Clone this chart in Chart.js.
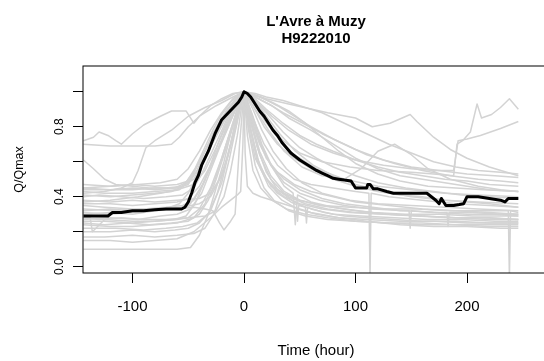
<!DOCTYPE html>
<html>
<head>
<meta charset="utf-8">
<script src="https://cdn.jsdelivr.net/npm/chart.js@4/dist/chart.umd.min.js"></script>
<style>
  html, body { margin: 0; padding: 0; background: #fff; overflow: hidden; }
  #wrap { width: 552px; height: 361px; }
</style>
</head>
<body>
<div id="wrap"><canvas id="myChart"></canvas></div>
<script>
// Axis ticks
let xTicks = [-100, 0, 100, 200];
let yTicks = [0, 0.2, 0.4, 0.6, 0.8, 1.0];
let yLabelled = [0, 0.4, 0.8];

// Mean event (black line): hours around the peak, Q/Qmax
let meanHours = [-144,-130,-122,-118,-110,-100,-90,-80,-70,-62,
  -56,-53,-50,-47,-44,-41,-38,-35,-32,-29,
  -26,-23,-20,-17,-14,-11,-8,-5,-2,0,
  3,6,10,14,18,22,26,30,34,38,
  42,46,50,55,60,65,70,75,80,85,
  90,96,98,100,105,110,111,113,116,120,
  128,134,140,150,160,164,168,172,175,177,
  181,184,188,193,197,200,205,210,220,230,
  234,237,240,246];
let meanQ = [0.29,0.29,0.29,0.31,0.31,0.32,0.32,0.325,0.33,0.33,
  0.33,0.34,0.37,0.42,0.48,0.52,0.58,0.62,0.66,0.71,
  0.76,0.80,0.84,0.86,0.88,0.90,0.92,0.94,0.97,1.0,
  0.99,0.97,0.93,0.89,0.86,0.82,0.78,0.75,0.71,0.68,
  0.65,0.63,0.61,0.59,0.57,0.55,0.535,0.52,0.505,0.50,
  0.495,0.49,0.47,0.45,0.45,0.45,0.47,0.47,0.445,0.445,
  0.43,0.42,0.42,0.42,0.42,0.42,0.40,0.38,0.36,0.39,
  0.35,0.35,0.35,0.355,0.36,0.40,0.40,0.40,0.39,0.38,
  0.37,0.39,0.39,0.39];

// Individual flood events (grey lines): hours and Q/Qmax
let greyHours = [
  [-144,-135,-130,-122,-115,-110,-100,-90,-75,-65,-52,-45,-40,-30,-20,-10,0,10,25,40,60,80,100,120,140,160,180,200,220,246],
  [-144,-120,-100,-80,-65,-58,-50,-40,-25,-10,0,10,20,35,50,70,90,110,130,150,170,190,210,230,246],
  [-144,-135,-125,-115,-100,-85,-70,-55,-45,-35,-25,-15,-5,0,8,18,30,45,60,80,100,120,140,160,180,200,220,246],
  [-144,-125,-110,-100,-95,-88,-80,-65,-50,-35,-20,-8,0,20,40,75,100,115,131,149,155,170,185,200,220,246],
  [-144,-120,-100,-80,-60,-50,-42,-34,-26,-18,-10,-4,0,10,22,35,50,70,95,120,150,170,188,191,196,203,209,213,222,230,238,246],
  [-144,-120,-100,-80,-62,-52,-44,-36,-28,-20,-12,-5,0,12,25,40,60,80,100,125,150,170,188,192,200,212,230,246],
  [-144,-120,-100,-80,-60,-50,-42,-35,-28,-20,-12,-5,0,5,12,20,30,45,60,80,100,130,160,190,220,246],
  [-144,-125,-100,-80,-60,-45,-35,-25,-15,-8,0,10,20,35,50,65,80,100,120,140,160,180,200,220,246],
  [-144,-130,-110,-90,-70,-55,-45,-38,-30,-22,-15,-8,0,6,14,24,36,50,70,90,115,140,148,149,150,170,200,225,246],
  [-144,-120,-100,-80,-60,-40,-30,-22,-15,-8,-3,0,4,10,18,28,40,55,75,100,130,160,190,220,246],
  [-144,-120,-95,-75,-58,-48,-40,-32,-24,-16,-8,0,10,22,35,50,70,90,110,135,160,185,210,230,246],
  [-144,-125,-100,-75,-55,-40,-30,-20,-12,-6,0,5,12,20,30,42,47,48,49,56,72,90,110,135,160,190,220,246],
  [-144,-115,-90,-70,-55,-45,-36,-28,-20,-12,-5,0,8,16,26,38,52,70,95,120,150,180,210,246],
  [-144,-120,-100,-85,-70,-58,-50,-42,-32,-22,-12,-4,0,10,20,32,46,62,80,100,125,150,180,210,246],
  [-144,-130,-110,-90,-70,-50,-35,-25,-18,-12,-6,-2,0,3,8,15,25,38,55,75,100,130,160,190,220,246],
  [-144,-120,-95,-75,-60,-48,-38,-30,-22,-14,-7,0,6,14,24,36,50,68,90,115,145,175,182,183,184,205,230,246],
  [-144,-125,-105,-85,-65,-50,-40,-32,-25,-18,-10,-4,0,5,12,20,30,45,55,56,57,60,80,105,135,165,195,225,246],
  [-144,-120,-100,-80,-60,-45,-35,-26,-18,-10,-4,0,8,18,30,45,60,80,100,112,113,114,130,160,190,220,246],
  [-144,-115,-90,-70,-55,-42,-32,-24,-16,-9,-3,0,6,14,24,36,50,70,95,125,155,185,215,237,238,239,246],
  [-144,-120,-100,-80,-62,-50,-40,-30,-20,-12,-5,0,5,12,22,34,48,65,85,110,140,170,200,230,246],
  [-144,-125,-100,-80,-60,-45,-35,-27,-20,-13,-7,-2,0,4,10,18,28,40,55,75,100,130,160,190,220,246],
  [-144,-120,-100,-80,-60,-45,-30,-20,-12,-6,-3,-1,0,1,3,8,15,25,40,60,85,110,140,170,200,230,246],
  [-144,-120,-100,-80,-60,-48,-40,-32,-25,-18,-12,-6,0,6,14,24,36,50,68,90,115,145,175,205,230,246],
  [-144,-120,-95,-75,-60,-50,-40,-30,-20,-10,0,15,30,45,60,80,100,125,150,175,200,225,246],
  [-144,-120,-100,-80,-60,-48,-38,-28,-18,-8,0,10,22,36,52,70,90,105,120,135,150,165,185,210,230,246],
  [-144,-125,-100,-80,-62,-52,-44,-36,-28,-20,-12,-5,0,8,18,30,45,65,90,120,150,180,210,246],
  [-144,-120,-100,-80,-60,-45,-35,-28,-22,-18,-12,-8,-4,0,6,14,24,36,50,70,95,125,155,185,215,246],
  [-144,-138,-136,-125,-100,-80,-60,-50,-40,-30,-20,-10,-4,0,8,16,26,36,44,46,48,60,80,100,130,160,190,220,246],
  [-144,-120,-100,-80,-65,-55,-45,-35,-25,-15,-6,0,10,25,40,55,70,85,100,120,140,165,190,215,246],
  [-144,-120,-100,-80,-60,-50,-40,-30,-20,-10,-3,0,10,20,35,50,65,80,100,120,145,170,195,220,246]
];
let greyQ = [
  [0.72,0.74,0.77,0.75,0.72,0.70,0.76,0.81,0.86,0.89,0.89,0.82,0.86,0.92,0.96,0.99,1.0,0.97,0.92,0.85,0.78,0.70,0.62,0.56,0.52,0.50,0.48,0.46,0.44,0.43],
  [0.70,0.69,0.69,0.69,0.70,0.74,0.80,0.86,0.92,0.97,1.0,0.99,0.97,0.95,0.92,0.88,0.82,0.76,0.70,0.65,0.60,0.57,0.55,0.54,0.53],
  [0.61,0.56,0.50,0.47,0.46,0.45,0.45,0.46,0.50,0.62,0.75,0.88,0.97,1.0,0.92,0.80,0.70,0.62,0.56,0.50,0.46,0.43,0.41,0.40,0.38,0.37,0.36,0.34],
  [0.42,0.43,0.45,0.48,0.55,0.68,0.72,0.78,0.86,0.91,0.95,0.99,1.0,0.96,0.93,0.88,0.85,0.80,0.82,0.87,0.83,0.74,0.67,0.62,0.57,0.52],
  [0.47,0.46,0.47,0.46,0.47,0.49,0.55,0.64,0.74,0.84,0.93,0.98,1.0,0.93,0.82,0.72,0.65,0.60,0.57,0.55,0.54,0.53,0.52,0.70,0.72,0.77,0.93,0.85,0.87,0.91,0.96,0.90],
  [0.44,0.44,0.45,0.44,0.45,0.48,0.56,0.67,0.78,0.87,0.94,0.98,1.0,0.94,0.86,0.78,0.70,0.65,0.61,0.58,0.56,0.55,0.55,0.72,0.73,0.75,0.79,0.83],
  [0.45,0.44,0.44,0.45,0.45,0.47,0.55,0.66,0.76,0.85,0.92,0.97,1.0,0.88,0.74,0.62,0.54,0.47,0.43,0.40,0.37,0.35,0.33,0.32,0.31,0.30],
  [0.43,0.42,0.42,0.43,0.44,0.47,0.55,0.68,0.82,0.92,1.0,0.96,0.90,0.82,0.75,0.70,0.66,0.61,0.57,0.54,0.52,0.50,0.49,0.47,0.46],
  [0.40,0.41,0.40,0.39,0.40,0.41,0.45,0.53,0.64,0.75,0.85,0.94,1.0,0.85,0.70,0.58,0.50,0.44,0.39,0.36,0.34,0.32,0.32,0.22,0.32,0.31,0.30,0.30,0.29],
  [0.38,0.37,0.38,0.37,0.38,0.39,0.42,0.50,0.62,0.78,0.92,1.0,0.80,0.62,0.52,0.45,0.40,0.36,0.33,0.31,0.30,0.29,0.28,0.28,0.27],
  [0.37,0.38,0.40,0.42,0.44,0.50,0.60,0.70,0.80,0.88,0.95,1.0,0.97,0.93,0.88,0.83,0.76,0.70,0.64,0.59,0.55,0.52,0.50,0.49,0.48],
  [0.35,0.34,0.33,0.33,0.34,0.36,0.40,0.52,0.70,0.88,1.0,0.82,0.62,0.50,0.42,0.37,0.355,0.26,0.35,0.34,0.31,0.29,0.28,0.27,0.26,0.26,0.25,0.25],
  [0.33,0.32,0.33,0.34,0.35,0.38,0.48,0.60,0.72,0.84,0.94,1.0,0.90,0.78,0.66,0.56,0.48,0.42,0.38,0.36,0.35,0.34,0.33,0.32],
  [0.31,0.30,0.31,0.32,0.33,0.36,0.42,0.52,0.66,0.78,0.90,0.97,1.0,0.95,0.86,0.76,0.66,0.58,0.52,0.47,0.43,0.40,0.38,0.37,0.36],
  [0.28,0.27,0.28,0.27,0.27,0.28,0.29,0.32,0.40,0.55,0.75,0.92,1.0,0.75,0.55,0.45,0.38,0.33,0.30,0.28,0.26,0.25,0.24,0.24,0.23,0.23],
  [0.27,0.28,0.27,0.29,0.30,0.33,0.42,0.55,0.68,0.80,0.92,1.0,0.88,0.72,0.58,0.48,0.42,0.38,0.35,0.33,0.32,0.31,0.31,0.23,0.31,0.31,0.30,0.30],
  [0.25,0.24,0.25,0.24,0.25,0.26,0.30,0.38,0.50,0.64,0.80,0.93,1.0,0.86,0.68,0.54,0.44,0.37,0.34,0.25,0.34,0.33,0.30,0.29,0.28,0.27,0.27,0.26,0.26],
  [0.24,0.23,0.23,0.24,0.25,0.28,0.36,0.50,0.66,0.82,0.94,1.0,0.85,0.70,0.58,0.50,0.47,0.45,0.43,0.42,-0.06,0.42,0.40,0.38,0.36,0.35,0.34],
  [0.22,0.22,0.21,0.22,0.23,0.25,0.30,0.42,0.60,0.78,0.93,1.0,0.84,0.66,0.52,0.43,0.38,0.35,0.34,0.33,0.33,0.32,0.32,0.32,-0.06,0.32,0.31],
  [0.20,0.20,0.21,0.20,0.21,0.22,0.25,0.32,0.48,0.70,0.90,1.0,0.80,0.60,0.46,0.38,0.33,0.30,0.28,0.27,0.26,0.26,0.25,0.25,0.25],
  [0.17,0.17,0.18,0.17,0.18,0.19,0.22,0.30,0.44,0.62,0.80,0.95,1.0,0.78,0.58,0.45,0.37,0.32,0.29,0.27,0.26,0.25,0.25,0.24,0.24,0.24],
  [0.15,0.15,0.14,0.15,0.16,0.20,0.28,0.34,0.38,0.41,0.43,0.70,1.0,0.65,0.46,0.42,0.40,0.38,0.35,0.31,0.28,0.26,0.24,0.23,0.23,0.22,0.22],
  [0.10,0.10,0.10,0.10,0.10,0.11,0.18,0.30,0.45,0.60,0.76,0.90,1.0,0.82,0.64,0.50,0.42,0.38,0.35,0.33,0.31,0.30,0.30,0.29,0.29,0.29],
  [0.45,0.46,0.47,0.48,0.50,0.56,0.66,0.78,0.88,0.96,1.0,0.97,0.92,0.86,0.80,0.73,0.67,0.61,0.57,0.55,0.53,0.52,0.51],
  [0.30,0.31,0.30,0.32,0.33,0.36,0.46,0.60,0.76,0.92,1.0,0.90,0.78,0.66,0.57,0.52,0.50,0.56,0.66,0.70,0.64,0.56,0.50,0.46,0.44,0.43],
  [0.26,0.26,0.25,0.26,0.27,0.29,0.36,0.48,0.62,0.76,0.88,0.96,1.0,0.94,0.84,0.74,0.64,0.56,0.50,0.46,0.44,0.42,0.41,0.40],
  [0.32,0.33,0.32,0.33,0.33,0.34,0.33,0.32,0.25,0.21,0.26,0.30,0.70,1.0,0.78,0.58,0.46,0.40,0.36,0.33,0.31,0.30,0.29,0.28,0.28,0.27],
  [0.28,0.28,0.20,0.27,0.26,0.26,0.27,0.28,0.33,0.45,0.62,0.82,0.94,1.0,0.86,0.70,0.56,0.46,0.42,0.24,0.41,0.37,0.34,0.32,0.30,0.29,0.28,0.27,0.27],
  [0.41,0.40,0.41,0.42,0.43,0.46,0.54,0.66,0.78,0.90,0.97,1.0,0.98,0.94,0.89,0.82,0.74,0.66,0.59,0.53,0.49,0.46,0.45,0.44,0.43],
  [0.36,0.36,0.35,0.36,0.37,0.39,0.46,0.58,0.72,0.86,0.96,1.0,0.95,0.88,0.77,0.68,0.62,0.57,0.52,0.48,0.45,0.43,0.41,0.40,0.39]
];

const fontFamily = "'Liberation Sans', Arial, Helvetica, sans-serif";

// black line first so it is drawn on top
let datasets = [{
    data: meanHours.map((h, i) => ({ x: h, y: meanQ[i] })),
    borderColor: '#000',
    borderWidth: 3,
    pointRadius: 0,
    borderJoinStyle: 'round'
}];
greyHours.forEach((hours, k) => {
    datasets.push({
        data: hours.map((h, i) => ({ x: h, y: greyQ[k][i] })),
        borderColor: 'rgb(211, 211, 211)',
        borderWidth: 1.5,
        pointRadius: 0,
        borderJoinStyle: 'round'
    });
});

// R style box around the plot region
const boxPlugin = {
    id: 'box',
    afterDatasetsDraw(chart) {
        const a = chart.chartArea;
        const c = chart.ctx;
        c.save();
        c.strokeStyle = '#000';
        c.lineWidth = 1;
        c.strokeRect(a.left, a.top, a.right - a.left, a.bottom - a.top);
        c.restore();
    }
};

let ctx = document.getElementById('myChart').getContext('2d');
let myChart = new Chart(ctx, {
    type: 'line',
    data: { datasets: datasets },
    plugins: [boxPlugin],
    options: {
        responsive: true,
        maintainAspectRatio: false,
        animation: false,
        events: [],
        layout: { padding: { left: 0, right: 3, top: 0, bottom: 0 } },
        plugins: {
            legend: { display: false },
            tooltip: { enabled: false },
            title: {
                display: true,
                fullSize: false,
                text: ["L'Avre à Muzy", 'H9222010'],
                color: '#000',
                font: { family: fontFamily, size: 15, weight: 'bold', lineHeight: 17 / 15 },
                padding: { top: 13, bottom: 19 }
            }
        },
        scales: {
            x: {
                type: 'linear',
                min: -144.4,
                max: 273.5,
                afterBuildTicks: s => { s.ticks = xTicks.map(v => ({ value: v })); },
                afterFit: s => { s.height = 88; },
                border: { display: false },
                grid: { drawOnChartArea: false, drawTicks: true, tickLength: 10, color: '#000', lineWidth: 1 },
                ticks: {
                    autoSkip: false, maxRotation: 0, padding: 15, color: '#000',
                    font: { family: fontFamily, size: 15 },
                    callback: v => String(v)
                },
                title: {
                    display: true, text: 'Time (hour)', color: '#000',
                    font: { family: fontFamily, size: 15 },
                    padding: { top: 0, bottom: 1 }
                }
            },
            y: {
                type: 'linear',
                min: -0.036,
                max: 1.147,
                afterBuildTicks: s => { s.ticks = yTicks.map(v => ({ value: v })); },
                afterFit: s => { s.width = 83; },
                border: { display: false },
                grid: { drawOnChartArea: false, drawTicks: true, tickLength: 10, color: '#000', lineWidth: 1 },
                ticks: {
                    autoSkip: false, minRotation: 90, maxRotation: 90, crossAlign: 'center',
                    padding: 4.6, color: '#000',
                    font: { family: fontFamily, size: 12 },
                    callback: v => yLabelled.includes(v) ? v.toFixed(1) : ''
                },
                title: {
                    display: true, text: 'Q/Qmax', color: '#000',
                    font: { family: fontFamily, size: 12.5 },
                    padding: { top: 12.5, bottom: 0 }
                }
            }
        }
    }
});
</script>
</body>
</html>
